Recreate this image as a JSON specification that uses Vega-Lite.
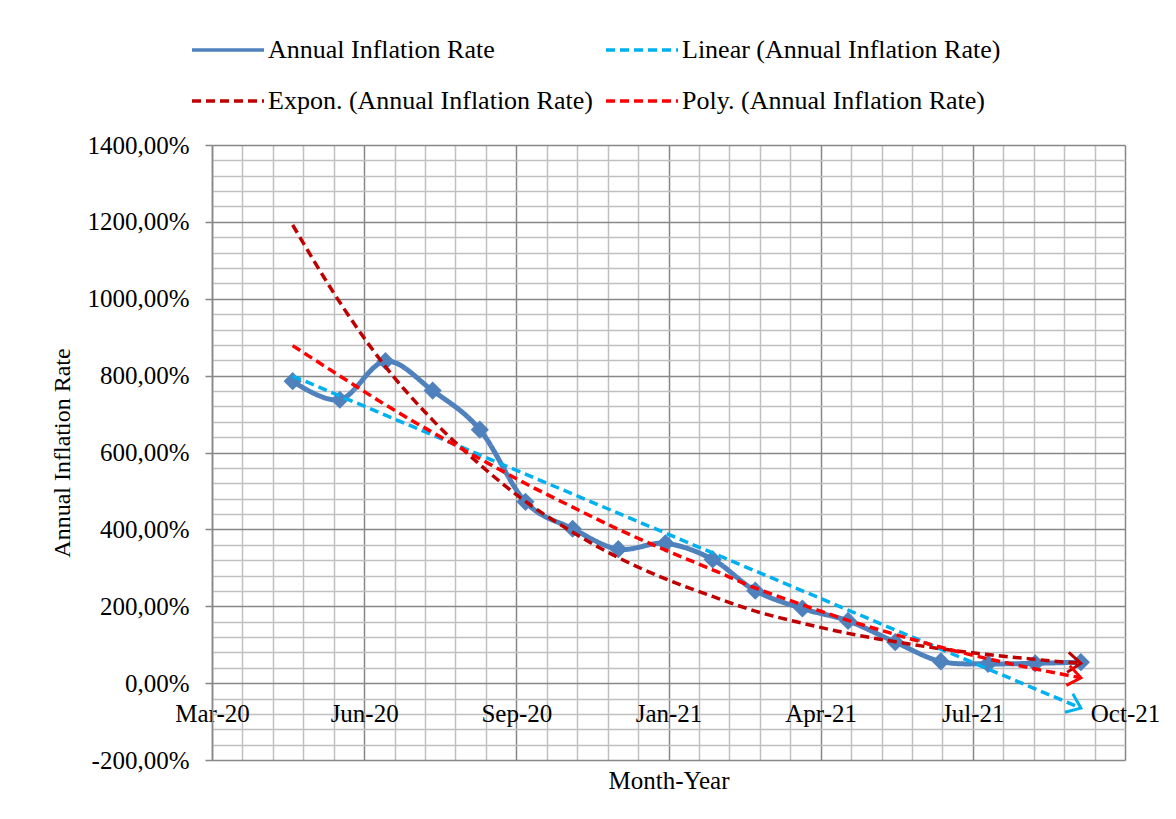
{
  "$schema": "https://vega.github.io/schema/vega-lite/v6.json",
  "width": 913,
  "height": 615,
  "autosize": {"type": "none"},
  "padding": {"left": 212, "top": 145, "right": 51, "bottom": 59},
  "background": "white",
  "config": {
    "font": "Liberation Serif",
    "view": {"stroke": null},
    "axis": {"labelColor": "black", "titleColor": "black", "titleFontWeight": "normal", "labelFont": "Liberation Serif", "titleFont": "Liberation Serif"},
    "legend": {"labelFont": "Liberation Serif"}
  },
  "data": {
    "values": [
      {"date": "2020-05-01", "series": "Annual Inflation Rate", "value": 785.55},
      {"date": "2020-06-01", "series": "Annual Inflation Rate", "value": 737.3},
      {"date": "2020-07-01", "series": "Annual Inflation Rate", "value": 837.53},
      {"date": "2020-08-01", "series": "Annual Inflation Rate", "value": 761.02},
      {"date": "2020-09-01", "series": "Annual Inflation Rate", "value": 659.4},
      {"date": "2020-10-01", "series": "Annual Inflation Rate", "value": 471.56},
      {"date": "2020-11-01", "series": "Annual Inflation Rate", "value": 401.67},
      {"date": "2020-12-01", "series": "Annual Inflation Rate", "value": 348.59},
      {"date": "2021-01-01", "series": "Annual Inflation Rate", "value": 363.66},
      {"date": "2021-02-01", "series": "Annual Inflation Rate", "value": 321.95},
      {"date": "2021-03-01", "series": "Annual Inflation Rate", "value": 240.55},
      {"date": "2021-04-01", "series": "Annual Inflation Rate", "value": 194.07},
      {"date": "2021-05-01", "series": "Annual Inflation Rate", "value": 161.91},
      {"date": "2021-06-01", "series": "Annual Inflation Rate", "value": 106.64},
      {"date": "2021-07-01", "series": "Annual Inflation Rate", "value": 56.37},
      {"date": "2021-08-01", "series": "Annual Inflation Rate", "value": 50.24},
      {"date": "2021-09-01", "series": "Annual Inflation Rate", "value": 51.55},
      {"date": "2021-10-01", "series": "Annual Inflation Rate", "value": 54.49},
      {"date": "2020-05-01", "series": "Linear (Annual Inflation Rate)", "value": 798.9},
      {"date": "2021-10-01", "series": "Linear (Annual Inflation Rate)", "value": -65.0},
      {"date": "2020-05-01", "series": "Expon. (Annual Inflation Rate)", "value": 1192},
      {"date": "2020-06-01", "series": "Expon. (Annual Inflation Rate)", "value": 990.7},
      {"date": "2020-07-01", "series": "Expon. (Annual Inflation Rate)", "value": 823.4},
      {"date": "2020-08-01", "series": "Expon. (Annual Inflation Rate)", "value": 684.3},
      {"date": "2020-09-01", "series": "Expon. (Annual Inflation Rate)", "value": 568.7},
      {"date": "2020-10-01", "series": "Expon. (Annual Inflation Rate)", "value": 472.7},
      {"date": "2020-11-01", "series": "Expon. (Annual Inflation Rate)", "value": 392.8},
      {"date": "2020-12-01", "series": "Expon. (Annual Inflation Rate)", "value": 326.5},
      {"date": "2021-01-01", "series": "Expon. (Annual Inflation Rate)", "value": 271.3},
      {"date": "2021-02-01", "series": "Expon. (Annual Inflation Rate)", "value": 225.5},
      {"date": "2021-03-01", "series": "Expon. (Annual Inflation Rate)", "value": 187.4},
      {"date": "2021-04-01", "series": "Expon. (Annual Inflation Rate)", "value": 155.8},
      {"date": "2021-05-01", "series": "Expon. (Annual Inflation Rate)", "value": 129.5},
      {"date": "2021-06-01", "series": "Expon. (Annual Inflation Rate)", "value": 107.6},
      {"date": "2021-07-01", "series": "Expon. (Annual Inflation Rate)", "value": 89.4},
      {"date": "2021-08-01", "series": "Expon. (Annual Inflation Rate)", "value": 74.3},
      {"date": "2021-09-01", "series": "Expon. (Annual Inflation Rate)", "value": 61.8},
      {"date": "2021-10-01", "series": "Expon. (Annual Inflation Rate)", "value": 51.3},
      {"date": "2020-05-01", "series": "Poly. (Annual Inflation Rate)", "value": 878.0},
      {"date": "2020-06-01", "series": "Poly. (Annual Inflation Rate)", "value": 799.2},
      {"date": "2020-07-01", "series": "Poly. (Annual Inflation Rate)", "value": 724.0},
      {"date": "2020-08-01", "series": "Poly. (Annual Inflation Rate)", "value": 652.2},
      {"date": "2020-09-01", "series": "Poly. (Annual Inflation Rate)", "value": 583.9},
      {"date": "2020-10-01", "series": "Poly. (Annual Inflation Rate)", "value": 519.2},
      {"date": "2020-11-01", "series": "Poly. (Annual Inflation Rate)", "value": 457.9},
      {"date": "2020-12-01", "series": "Poly. (Annual Inflation Rate)", "value": 400.1},
      {"date": "2021-01-01", "series": "Poly. (Annual Inflation Rate)", "value": 345.8},
      {"date": "2021-02-01", "series": "Poly. (Annual Inflation Rate)", "value": 294.9},
      {"date": "2021-03-01", "series": "Poly. (Annual Inflation Rate)", "value": 247.6},
      {"date": "2021-04-01", "series": "Poly. (Annual Inflation Rate)", "value": 203.8},
      {"date": "2021-05-01", "series": "Poly. (Annual Inflation Rate)", "value": 163.4},
      {"date": "2021-06-01", "series": "Poly. (Annual Inflation Rate)", "value": 126.6},
      {"date": "2021-07-01", "series": "Poly. (Annual Inflation Rate)", "value": 93.2},
      {"date": "2021-08-01", "series": "Poly. (Annual Inflation Rate)", "value": 63.3},
      {"date": "2021-09-01", "series": "Poly. (Annual Inflation Rate)", "value": 36.9},
      {"date": "2021-10-01", "series": "Poly. (Annual Inflation Rate)", "value": 14.0}
    ]
  },
  "encoding": {
    "x": {
      "field": "date",
      "type": "temporal",
      "scale": {"type": "utc", "domain": [1583712000000, 1635552000000]},
      "axis": {
        "values": [1583712000000, 1585440000000, 1587168000000, 1588896000000, 1590624000000, 1592352000000, 1594080000000, 1595808000000, 1597536000000, 1599264000000, 1600992000000, 1602720000000, 1604448000000, 1606176000000, 1607904000000, 1609632000000, 1611360000000, 1613088000000, 1614816000000, 1616544000000, 1618272000000, 1620000000000, 1621728000000, 1623456000000, 1625184000000, 1626912000000, 1628640000000, 1630368000000, 1632096000000, 1633824000000, 1635552000000],
        "labelExpr": "(datum.value - 1583712000000) % 8640000000 === 0 ? utcFormat(datum.value, '%b-%y') : ''",
        "gridColor": {"condition": {"test": "(datum.value - 1583712000000) % 8640000000 === 0", "value": "#878787"}, "value": "#C0C0C0"},
        "gridWidth": 1.5,
        "offset": -77,
        "domain": false,
        "ticks": false,
        "labelPadding": 18,
        "labelFontSize": 25,
        "labelOverlap": false,
        "labelFlush": false,
        "labelBound": false,
        "title": "Month-Year",
        "titleFontSize": 25,
        "titleY": 97,
        "titleBaseline": "middle"
      }
    },
    "y": {
      "field": "value",
      "type": "quantitative",
      "scale": {"domain": [-200, 1400], "nice": false, "zero": false},
      "axis": {
        "values": [-200, -160, -120, -80, -40, 0, 40, 80, 120, 160, 200, 240, 280, 320, 360, 400, 440, 480, 520, 560, 600, 640, 680, 720, 760, 800, 840, 880, 920, 960, 1000, 1040, 1080, 1120, 1160, 1200, 1240, 1280, 1320, 1360, 1400],
        "labelExpr": "datum.value % 200 === 0 ? (datum.value < 0 ? '-' : '') + replace(format(abs(datum.value), '.2f'), '.', ',') + '%' : ''",
        "gridColor": {"condition": {"test": "datum.value % 200 === 0", "value": "#878787"}, "value": "#C0C0C0"},
        "gridWidth": 1.5,
        "tickColor": {"condition": {"test": "datum.value % 200 === 0", "value": "#878787"}, "value": "transparent"},
        "tickSize": 7,
        "tickWidth": 1.5,
        "domainColor": "#878787",
        "domainWidth": 1.5,
        "labelFontSize": 25,
        "labelPadding": 16,
        "labelOverlap": false,
        "labelFlush": false,
        "labelBound": false,
        "title": "Annual Inflation Rate",
        "titleFontSize": 24,
        "titlePadding": 12
      }
    }
  },
  "layer": [
    {
      "transform": [{"filter": "datum.series === 'Annual Inflation Rate'"}],
      "mark": {"type": "line", "interpolate": "cardinal", "strokeWidth": 5},
      "encoding": {
        "color": {
          "field": "series",
          "type": "nominal",
          "sort": null,
          "scale": {
            "domain": ["Annual Inflation Rate", "Expon. (Annual Inflation Rate)", "Linear (Annual Inflation Rate)", "Poly. (Annual Inflation Rate)"],
            "range": ["#4F81BD", "#C00000", "#00B0F0", "#FF0000"]
          },
          "legend": {
            "orient": "none",
            "legendX": -22,
            "legendY": -133,
            "columns": 2,
            "title": null,
            "symbolType": "stroke",
            "symbolSize": 5184,
            "symbolStrokeWidth": 3.5,
            "labelOffset": 2,
            "labelFontSize": 26,
            "labelFont": "Liberation Serif",
            "labelColor": "black",
            "labelLimit": 0,
            "columnPadding": 6,
            "rowPadding": -37
          }
        },
        "strokeDash": {
          "field": "series",
          "type": "nominal",
          "sort": null,
          "scale": {
            "domain": ["Annual Inflation Rate", "Expon. (Annual Inflation Rate)", "Linear (Annual Inflation Rate)", "Poly. (Annual Inflation Rate)"],
            "range": [[1, 0], [9, 5], [9, 5], [9, 5]]
          },
          "legend": {
            "orient": "none",
            "legendX": -22,
            "legendY": -133,
            "columns": 2,
            "title": null,
            "symbolType": "stroke",
            "symbolSize": 5184,
            "symbolStrokeWidth": 3.5,
            "labelOffset": 2,
            "labelFontSize": 26,
            "labelFont": "Liberation Serif",
            "labelColor": "black",
            "labelLimit": 0,
            "columnPadding": 6,
            "rowPadding": -37
          }
        }
      }
    },
    {
      "transform": [{"filter": "datum.series === 'Annual Inflation Rate'"}],
      "mark": {"type": "point", "shape": "diamond", "filled": true, "size": 330, "color": "#4F81BD", "opacity": 1}
    },
    {
      "transform": [{"filter": "datum.series !== 'Annual Inflation Rate'"}],
      "mark": {"type": "line", "interpolate": "monotone", "strokeWidth": 3.5},
      "encoding": {
        "color": {"field": "series", "type": "nominal", "sort": null},
        "strokeDash": {"field": "series", "type": "nominal", "sort": null}
      }
    },
    {
      "transform": [{"filter": "datum.series === 'Linear (Annual Inflation Rate)' && utcyear(datum.date) === 2021 && utcmonth(datum.date) === 9"}],
      "mark": {"type": "point", "shape": "M-1.3,-1L0,0L-1.3,1", "filled": false, "size": 400, "strokeWidth": 3, "color": "#00B0F0", "opacity": 1, "angle": 23}
    },
    {
      "transform": [{"filter": "datum.series === 'Expon. (Annual Inflation Rate)' && utcyear(datum.date) === 2021 && utcmonth(datum.date) === 9"}],
      "mark": {"type": "point", "shape": "M-1.3,-1L0,0L-1.3,1", "filled": false, "size": 400, "strokeWidth": 3, "color": "#C00000", "opacity": 1, "angle": 5}
    },
    {
      "transform": [{"filter": "datum.series === 'Poly. (Annual Inflation Rate)' && utcyear(datum.date) === 2021 && utcmonth(datum.date) === 9"}],
      "mark": {"type": "point", "shape": "M-1.3,-1L0,0L-1.3,1", "filled": false, "size": 400, "strokeWidth": 3, "color": "#FF0000", "opacity": 1, "angle": 10}
    }
  ]
}
